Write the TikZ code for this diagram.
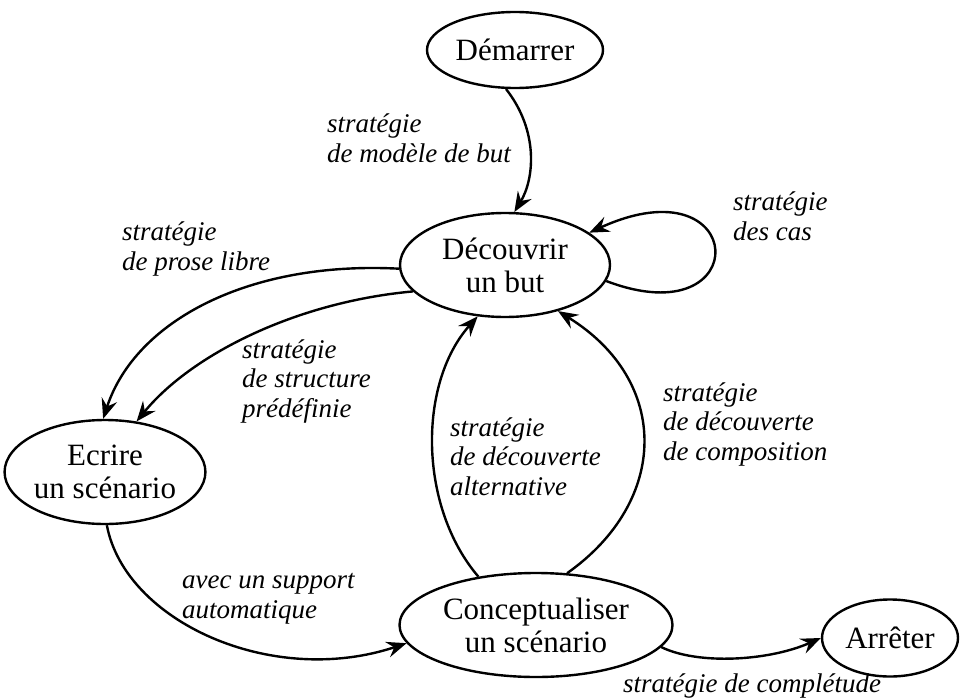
\documentclass[tikz,border=0pt]{standalone}
\usepackage{fontspec}
\setmainfont{Liberation Serif}
\usetikzlibrary{arrows.meta,shapes.geometric}
\begin{document}
\begin{tikzpicture}[x=1pt,y=-1pt,
  state/.style={ellipse, draw, line width=2.4pt, inner sep=0pt, align=center,
    font=\fontsize{31}{33}\selectfont},
  lbl/.style={anchor=base west, inner sep=0pt, align=left,
    font=\fontsize{27}{29.5}\selectfont\itshape},
  flow/.style={line width=2.4pt, -{Stealth[length=20pt,width=16pt,inset=7pt]}}]
\path[use as bounding box] (0,0) rectangle (960,698);

% states
\node[state, minimum width=176pt, minimum height=76pt]  (dem) at (515,50)  {Démarrer};
\node[state, minimum width=210pt, minimum height=104pt] (dec) at (505,265) {Découvrir\\un but};
\node[state, minimum width=190pt, minimum height=104pt] (ecr) at (105,472) {Ecrire\\un scénario};
\node[state, minimum width=273pt, minimum height=104pt] (con) at (536,625) {Conceptualiser\\un scénario};
\node[state, minimum width=136pt, minimum height=77pt]  (arr) at (890,638) {Arrêter};

% transitions
\draw[flow] (dem.-103) .. controls +(33,42) and +(20,-33) .. (dec.80);
\draw[flow] (dec.-9) .. controls +(150,57) and +(160,-73) .. (dec.21);
\draw[flow] (dec.182) .. controls +(-150,-8) and +(32,-98) .. (ecr.92);
\draw[flow] (dec.196) .. controls +(-120,11) and +(53,-65) .. (ecr.58);
\draw[flow] (ecr.-88) .. controls +(18,96) and +(-135,45) .. (con.188);
\draw[flow] (con.140) .. controls +(-60,-70) and +(-60,67) .. (dec.242);
\draw[flow] (con.59) .. controls +(102,-72) and +(113,70) .. (dec.319);
\draw[flow] (con.-10) .. controls +(37,18) and +(-52,23) .. (arr.180);

% strategy labels (placed by the baseline of their last line)
\node[lbl] (l1) at (327,162) {stratégie\\de modèle de but};
\node[lbl] (l2) at (733,240) {stratégie\\des cas};
\node[lbl] (l3) at (122,270) {stratégie\\de prose libre};
\node[lbl] (l4) at (242,417) {stratégie\\de structure\\prédéfinie};
\node[lbl] (l5) at (450,495) {stratégie\\de découverte\\alternative};
\node[lbl] (l6) at (663,460) {stratégie\\de découverte\\de composition};
\node[lbl] (l7) at (182,618) {avec un support\\automatique};
\node[lbl] (l8) at (623,692) {stratégie de complétude};
\end{tikzpicture}
\end{document}
